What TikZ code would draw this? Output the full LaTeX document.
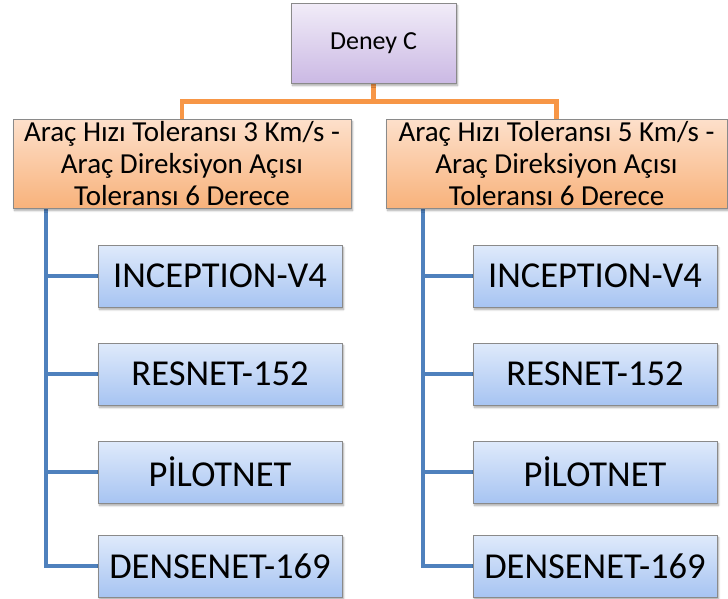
\documentclass[tikz,border=0pt]{standalone}
\usepackage{fontspec}
\setmainfont{Carlito}
\usetikzlibrary{shadows.blur,backgrounds}

\definecolor{rootTop}{HTML}{F1ECF8}
\definecolor{rootBot}{HTML}{CBB9E4}
\definecolor{midTop}{HTML}{FDE0CB}
\definecolor{midBot}{HTML}{F8B27B}
\definecolor{leafTop}{HTML}{DFEAFB}
\definecolor{leafBot}{HTML}{A7C4F2}
\definecolor{edgeGray}{HTML}{8A8A8A}
\definecolor{orangeLine}{HTML}{F79646}
\definecolor{blueLine}{HTML}{4F81BD}

\tikzset{
  box/.style={draw=edgeGray, line width=0.9pt, inner sep=0pt, align=center,
    text=black,
    blur shadow={shadow xshift=1.5pt, shadow yshift=-2.5pt,
      shadow blur steps=6, shadow opacity=35}},
  rootbox/.style={box, top color=rootTop, bottom color=rootBot,
    minimum width=165pt, minimum height=80pt,
    font=\fontsize{26}{30}\selectfont},
  midbox/.style={box, top color=midTop, bottom color=midBot,
    minimum height=89pt, font=\fontsize{29}{32}\selectfont},
  leafbox/.style={box, top color=leafTop, bottom color=leafBot,
    minimum width=244pt, minimum height=62pt,
    font=\fontsize{36.5}{40}\selectfont},
  orangeconn/.style={draw=orangeLine, line width=4.5pt},
  blueconn/.style={draw=blueLine, line width=4.5pt},
}

\begin{document}
\begin{tikzpicture}[x=1pt, y=-1pt]
  \useasboundingbox (0,0) rectangle (728,598);

  % root
  \node[rootbox] (root) at (373.5,43) {Deney C};

  % tolerance groups
  \node[midbox, minimum width=338pt] (p1) at (182,163.5)
    {Araç Hızı Toleransı 3 Km/s -\\Araç Direksiyon Açısı\\Toleransı 6 Derece};
  \node[midbox, minimum width=341pt] (p2) at (556.5,163.5)
    {Araç Hızı Toleransı 5 Km/s -\\Araç Direksiyon Açısı\\Toleransı 6 Derece};

  % left group
  \node[leafbox] (a1) at (220,276) {INCEPTION-V4};
  \node[leafbox] (a2) at (220,374) {RESNET-152};
  \node[leafbox] (a3) at (220,472) {PİLOTNET};
  \node[leafbox] (a4) at (220,566) {DENSENET-169};

  % right group
  \node[leafbox] (b1) at (595,276) {INCEPTION-V4};
  \node[leafbox] (b2) at (595,374) {RESNET-152};
  \node[leafbox] (b3) at (595,472) {PİLOTNET};
  \node[leafbox] (b4) at (595,566) {DENSENET-169};

  % x positions of the two blue trunks
  \coordinate (trunkA) at (46,0);
  \coordinate (trunkB) at (423,0);

  \begin{scope}[on background layer]
    % orange links from root to the two tolerance groups
    \draw[orangeconn] (root.south) -- ++(0,18) -| (p1.north);
    \draw[orangeconn] (root.south) -- ++(0,18) -| (p2.north);

    % blue trunks and branches
    \foreach \n in {a1,a2,a3,a4}
      \draw[blueconn] (trunkA |- p1.south) |- (\n.west);
    \foreach \n in {b1,b2,b3,b4}
      \draw[blueconn] (trunkB |- p2.south) |- (\n.west);
  \end{scope}
\end{tikzpicture}
\end{document}
